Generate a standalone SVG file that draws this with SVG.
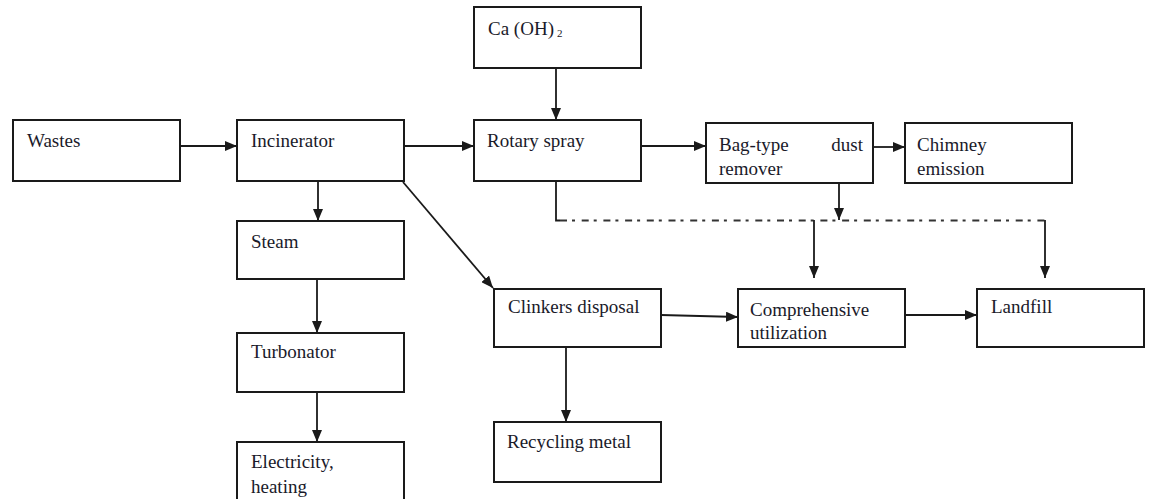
<svg xmlns="http://www.w3.org/2000/svg" width="1149" height="499" viewBox="0 0 1149 499">
<defs>
<style>
.box{fill:#fff;stroke:#1a1a1a;stroke-width:2}
.t{font-family:"Liberation Serif","Times New Roman",serif;font-size:19px;fill:#1a1a2a}
.c{fill:none;stroke:#1a1a1a;stroke-width:1.8}
.dd{fill:none;stroke:#333;stroke-width:1.8;stroke-dasharray:7,5,3,6.7}
</style>
<marker id="ah" markerUnits="userSpaceOnUse" markerWidth="12" markerHeight="10" refX="12" refY="5" orient="auto">
<path d="M0,0 L12,5 L0,10 Z" fill="#1a1a1a"/>
</marker>
</defs>
<rect width="1149" height="499" fill="#fff"/>
<g id="connectors">
<line class="c" x1="180" y1="146" x2="237" y2="146" marker-end="url(#ah)"/>
<line class="c" x1="404" y1="146" x2="474" y2="146" marker-end="url(#ah)"/>
<line class="c" x1="641" y1="146" x2="706" y2="146" marker-end="url(#ah)"/>
<line class="c" x1="873" y1="147" x2="905" y2="147" marker-end="url(#ah)"/>
<line class="c" x1="556" y1="68" x2="556" y2="120" marker-end="url(#ah)"/>
<line class="c" x1="318" y1="181" x2="318" y2="221" marker-end="url(#ah)"/>
<line class="c" x1="317" y1="279" x2="317" y2="333" marker-end="url(#ah)"/>
<line class="c" x1="317" y1="392" x2="317" y2="442" marker-end="url(#ah)"/>
<line class="c" x1="403" y1="182" x2="493" y2="288" marker-end="url(#ah)"/>
<line class="c" x1="566" y1="347" x2="566" y2="422" marker-end="url(#ah)"/>
<line class="c" x1="661" y1="315" x2="738" y2="317" marker-end="url(#ah)"/>
<line class="c" x1="905" y1="315" x2="977" y2="315" marker-end="url(#ah)"/>
<line class="c" x1="839" y1="183" x2="839" y2="220" marker-end="url(#ah)"/>
<polyline class="c" points="556,181 556,220.5 560,220.5"/>
<polyline class="dd" points="560,220.5 1045,220.5"/>
<line class="c" x1="814" y1="220" x2="814" y2="278" marker-end="url(#ah)"/>
<line class="c" x1="1045" y1="220" x2="1045" y2="278" marker-end="url(#ah)"/>
</g>
<g id="wastes"><rect class="box" x="13" y="120" width="167" height="61"/><text class="t" x="27" y="147">Wastes</text></g>
<g id="incinerator"><rect class="box" x="237" y="120" width="167" height="61"/><text class="t" x="251" y="147">Incinerator</text></g>
<g id="caoh2"><rect class="box" x="474" y="7" width="167" height="61"/><text class="t" x="488" y="35">Ca (OH)<tspan font-size="11" dx="3" dy="2">2</tspan></text></g>
<g id="rotary-spray"><rect class="box" x="474" y="120" width="167" height="61"/><text class="t" x="487" y="147">Rotary spray</text></g>
<g id="bag-type"><rect class="box" x="706" y="123" width="167" height="60"/><text class="t" x="719" y="151">Bag-type</text><text class="t" x="863" y="151" text-anchor="end">dust</text><text class="t" x="719" y="175">remover</text></g>
<g id="chimney"><rect class="box" x="905" y="123" width="167" height="60"/><text class="t" x="917" y="151">Chimney</text><text class="t" x="917" y="175">emission</text></g>
<g id="steam"><rect class="box" x="237" y="221" width="167" height="58"/><text class="t" x="251" y="248">Steam</text></g>
<g id="turbonator"><rect class="box" x="237" y="333" width="167" height="59"/><text class="t" x="251" y="358">Turbonator</text></g>
<g id="electricity"><rect class="box" x="237" y="442" width="167" height="70"/><text class="t" x="251" y="468">Electricity,</text><text class="t" x="251" y="493">heating</text></g>
<g id="clinkers"><rect class="box" x="494" y="289" width="167" height="58"/><text class="t" x="508" y="313">Clinkers disposal</text></g>
<g id="recycling"><rect class="box" x="494" y="422" width="167" height="60"/><text class="t" x="507" y="448">Recycling metal</text></g>
<g id="comprehensive"><rect class="box" x="738" y="289" width="167" height="58"/><text class="t" x="750" y="316">Comprehensive</text><text class="t" x="750" y="339">utilization</text></g>
<g id="landfill"><rect class="box" x="977" y="289" width="167" height="58"/><text class="t" x="991" y="313">Landfill</text></g>
</svg>
